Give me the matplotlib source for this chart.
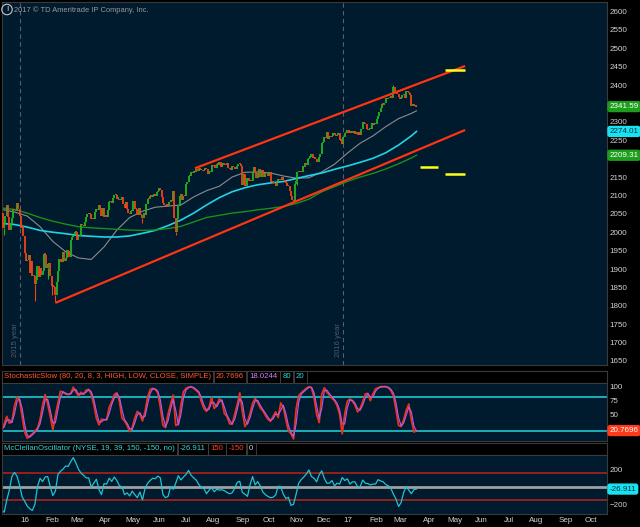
import numpy as np
import pandas as pd
import matplotlib
matplotlib.use("Agg")
import matplotlib.pyplot as plt
from matplotlib.transforms import blended_transform_factory as blend

plt.rcParams['font.family'] = ['Liberation Sans', 'DejaVu Sans']

# ---- data -------------------------------------------------------------
holidays = ["2015-12-25", "2016-01-01", "2016-01-18", "2016-02-15", "2016-03-25",
            "2016-05-30", "2016-07-04", "2016-09-05", "2016-11-24", "2016-12-26",
            "2017-01-02", "2017-01-16", "2017-02-20", "2017-04-14", "2017-05-29",
            "2017-07-04", "2017-09-04"]

# SPX daily closes 2015-12-10 .. 2017-03-27
prior_close = 2047.62
closes = [
    # Dec 2015
    2052.23, 2012.37, 2021.94, 2043.41, 2073.07, 2041.89, 2005.55, 2021.15, 2038.97, 2064.29,
    2060.99, 2056.50, 2078.36, 2063.36, 2043.94,
    # Jan 2016
    2012.66, 2016.71, 1990.26, 1943.09, 1922.03, 1923.67, 1938.68, 1890.28, 1921.84, 1880.33,
    1881.33, 1859.33, 1868.99, 1906.90, 1877.08, 1903.63, 1882.95, 1893.36, 1940.24,
    # Feb
    1939.38, 1903.03, 1912.53, 1915.45, 1880.05, 1853.44, 1852.21, 1851.86, 1829.08, 1864.78,
    1895.58, 1926.82, 1917.83, 1917.78, 1945.50, 1921.27, 1929.80, 1951.70, 1948.05, 1932.23,
    # Mar
    1978.35, 1986.45, 1993.40, 1999.99, 2001.76, 1979.26, 1989.26, 1989.57, 2022.19, 2019.64,
    2015.93, 2027.22, 2040.59, 2049.58, 2051.60, 2049.80, 2036.71, 2035.94, 2037.05, 2055.01,
    2063.95, 2059.74,
    # Apr
    2072.78, 2066.13, 2045.17, 2066.66, 2041.91, 2047.60, 2041.99, 2061.72, 2082.42, 2082.78,
    2080.73, 2094.34, 2100.80, 2102.40, 2091.48, 2091.58, 2087.79, 2091.70, 2095.15, 2075.81,
    2065.30,
    # May
    2081.43, 2063.37, 2051.12, 2050.63, 2057.14, 2058.69, 2084.39, 2064.46, 2064.11, 2046.61,
    2066.66, 2047.21, 2047.63, 2040.04, 2052.32, 2048.04, 2076.06, 2090.54, 2090.10, 2099.06,
    2096.95,
    # Jun
    2099.33, 2105.26, 2099.13, 2109.41, 2112.13, 2119.12, 2115.48, 2096.07, 2079.06, 2075.32,
    2071.50, 2077.99, 2071.22, 2083.25, 2088.90, 2085.45, 2113.32, 2037.41, 2000.54, 2036.09,
    2070.77, 2098.86,
    # Jul
    2102.95, 2088.55, 2099.73, 2097.90, 2129.90, 2137.16, 2152.14, 2152.43, 2163.75, 2161.74,
    2166.89, 2163.78, 2173.02, 2165.17, 2175.03, 2168.48, 2169.18, 2166.58, 2170.06, 2173.60,
    # Aug
    2170.84, 2157.03, 2163.79, 2164.25, 2182.87, 2180.89, 2181.74, 2175.49, 2185.79, 2184.05,
    2190.15, 2178.15, 2182.22, 2187.02, 2183.87, 2182.64, 2186.90, 2175.44, 2172.47, 2169.04,
    2180.38, 2176.12, 2170.95,
    # Sep
    2170.86, 2179.98, 2186.48, 2186.16, 2181.30, 2127.81, 2159.04, 2127.02, 2125.77, 2147.26,
    2139.16, 2139.12, 2139.76, 2163.12, 2177.18, 2164.69, 2146.10, 2159.93, 2171.37, 2151.13,
    2168.27,
    # Oct
    2161.20, 2150.49, 2159.73, 2160.77, 2153.74, 2163.66, 2136.73, 2139.18, 2132.55, 2132.98,
    2126.50, 2139.60, 2144.29, 2141.34, 2141.16, 2151.33, 2143.16, 2139.43, 2133.04, 2126.41,
    2126.15,
    # Nov
    2111.72, 2097.94, 2088.66, 2085.18, 2131.52, 2139.56, 2163.26, 2167.48, 2164.45, 2164.20,
    2180.39, 2176.94, 2187.12, 2181.90, 2198.18, 2202.94, 2204.72, 2213.35, 2201.72, 2204.66,
    2198.81,
    # Dec
    2191.08, 2191.95, 2204.71, 2212.23, 2241.35, 2246.19, 2259.53, 2256.96, 2271.72, 2253.28,
    2262.03, 2258.07, 2262.53, 2270.76, 2265.18, 2260.96, 2263.79, 2268.88, 2249.92, 2249.26,
    2238.83,
    # Jan 2017
    2257.83, 2270.75, 2269.00, 2276.98, 2268.90, 2268.90, 2275.32, 2270.44, 2274.64, 2267.89,
    2271.89, 2263.69, 2271.31, 2265.20, 2280.07, 2298.37, 2296.68, 2294.69, 2280.90, 2278.87,
    # Feb
    2279.55, 2280.85, 2297.42, 2292.56, 2293.08, 2294.67, 2307.87, 2316.10, 2328.25, 2337.58,
    2349.25, 2347.22, 2351.16, 2365.38, 2362.82, 2363.81, 2367.34, 2369.75, 2363.64,
    # Mar
    2395.96, 2381.92, 2383.12, 2375.31, 2368.39, 2362.98, 2364.87, 2372.60, 2373.47, 2365.45,
    2385.26, 2381.38, 2378.25, 2373.47, 2344.02, 2348.45, 2345.96, 2343.98, 2341.59,
]

# notable intraday extremes (wicks)
wick_lows = {"2015-12-14": 1993.3, "2016-01-20": 1812.3, "2016-02-03": 1872.7,
             "2016-02-08": 1828.5, "2016-02-11": 1810.1, "2016-05-19": 2025.9,
             "2016-06-27": 1991.7, "2016-11-04": 2083.8, "2016-11-09": 2128.0}
wick_highs = {"2017-03-01": 2401.0}

# moving averages read every 10 bars (plus last bar)
ma_bars = list(range(0, 321, 10)) + [324]
sma50 = [2062, 2055, 2044, 2015, 1975, 1947, 1930, 1926, 1960, 2006, 2040, 2057, 2068, 2071,
         2074, 2096, 2113, 2125, 2150, 2163, 2164, 2161, 2153, 2147, 2148, 2164, 2185, 2215,
         2242, 2262, 2287, 2309, 2323, 2330]
sma100 = [2024, 2021, 2014, 2005, 2000, 1996, 1991, 1989, 1987, 1987, 1990, 1997, 2005, 2018,
          2033, 2052, 2074, 2094, 2110, 2121, 2129, 2134, 2138, 2146, 2154, 2161, 2171, 2180,
          2190, 2201, 2216, 2237, 2262, 2274.01]
sma200 = [2066, 2062, 2052, 2040, 2030, 2022, 2015, 2012, 2010, 2008, 2006, 2005, 2006, 2010,
          2016, 2028, 2040, 2046, 2052, 2056, 2061, 2065, 2070, 2078, 2090, 2110, 2124, 2138,
          2150, 2160, 2172, 2186, 2202, 2209.31]

# drawn objects (date, price)
upper_channel = [("2016-07-19", 2174), ("2017-05-19", 2452)]
lower_channel = [("2016-02-11", 1808), ("2017-05-19", 2278)]
targets = [("2017-04-27", "2017-05-19", 2440), ("2017-03-30", "2017-04-20", 2178),
           ("2017-04-27", "2017-05-19", 2158)]

# indicators read every 2nd bar
stoch_k = [22, 32, 46, 34, 36, 64, 80, 75, 46, 18,
           7, 11, 15, 20, 25, 40, 66, 85, 68, 46,
           22, 47, 70, 91, 89, 86, 85, 87, 98, 90,
           82, 89, 85, 93, 94, 86, 67, 43, 31, 41,
           40, 40, 62, 72, 85, 88, 73, 43, 38, 30,
           19, 26, 43, 55, 50, 38, 54, 80, 94, 96,
           94, 88, 62, 30, 26, 50, 68, 84, 30, 32,
           66, 90, 96, 98, 99, 96, 92, 88, 72, 60,
           55, 62, 80, 60, 66, 77, 74, 51, 46, 33,
           32, 49, 67, 88, 55, 28, 36, 51, 69, 78,
           71, 61, 56, 48, 41, 37, 46, 54, 44, 70,
           62, 40, 20, 15, 6, 59, 83, 88, 92, 96,
           99, 97, 80, 50, 35, 85, 97, 89, 84, 78,
           74, 65, 50, 15, 50, 73, 77, 73, 66, 54,
           60, 72, 86, 87, 74, 86, 95, 97, 99, 99,
           99, 97, 92, 83, 58, 30, 28, 40, 57, 68,
           40, 18, 20.77]
mcclellan = [-270, -289, -154, -38, 115, 162, 120, 20, -115, -165,
             -220, -250, -270, -200, 0, 95, 58, 110, 115, 0,
             -100, -50, 140, 175, 200, 235, 230, 285, 330, 270,
             200, 154, 130, 100, 100, -5, 40, 85, -30, -90,
             35, 30, 96, 60, 110, 70, 10, 0, -90, -70,
             -105, -50, -90, -125, -60, -150, -20, 38, 70, 96,
             90, 120, 100, -90, -125, -110, 0, -30, 40, 125,
             77, 110, 140, 185, 130, 100, 75, 25, -10, -20,
             -80, -40, -10, -58, -30, -38, -35, -45, -65, -80,
             -70, -20, 50, 60, -65, -85, -110, 20, 115, 20,
             58, 10, -60, -90, -110, -125, -120, -95, 5, 0,
             -85, -135, -120, -212, -200, -85, 40, 80, 110, 145,
             190, 115, 96, 55, 135, 180, 96, 40, 40, 70,
             10, 40, 30, 105, 70, 90, 30, 55, 55, 0,
             0, 75, 40, 35, 20, 30, 30, 80, 65, 55,
             25, 10, -19, -85, -140, -225, -180, -65, 0, -40,
             -80, -33, -26.911]

# ---- calendar ------------------------------------------------------------
days = pd.date_range("2015-12-10", "2017-10-31",
                     freq=pd.offsets.CustomBusinessDay(holidays=holidays))


def bar_of(s):
    return days.get_loc(pd.Timestamp(s))


closes = np.array(closes)
bars = np.arange(len(closes))
opens = np.r_[prior_close, closes[:-1]]

# ---- figure ------------------------------------------------------------
BG = '#001a2e'
EDGE = '#3a3a3a'
UP, DOWN = '#22b422', '#f2421a'
W, H = 640, 527

fig = plt.figure(figsize=(6.4, 5.27), dpi=100, facecolor='black')


def rect(x0, y0, x1, y1):
    return [x0 / W, 1 - y1 / H, (x1 - x0) / W, (y1 - y0) / H]


ax = fig.add_axes(rect(2, 2, 607, 365), facecolor=BG)
hs = fig.add_axes(rect(2, 371, 607, 383), facecolor='black')
ax_st = fig.add_axes(rect(2, 383, 607, 441), facecolor=BG)
hm = fig.add_axes(rect(2, 443, 607, 455), facecolor='black')
ax_mc = fig.add_axes(rect(2, 455, 607, 514), facecolor=BG)

for a in (ax, hs, ax_st, hm, ax_mc):
    for sp in a.spines.values():
        sp.set_color(EDGE)
        sp.set_linewidth(0.8)
    a.set_xticks([])
for a in (hs, hm):
    a.set_yticks([])
for a in (ax, ax_st, ax_mc):
    a.set_xlim(0.3, 472.8)
    a.yaxis.tick_right()
    a.tick_params(axis='y', length=0, pad=2, labelsize=5.8, labelcolor='#d2d2d2')

# ---- price panel -------------------------------------------------------
ax.set_ylim(1639, 2626)
# levels hidden behind the value tags are left out, as on the platform
price_ticks = [t for t in range(1650, 2601, 50) if t not in (2350, 2200)]
ax.set_yticks(price_ticks)

lo = np.minimum(opens, closes)
hi = np.maximum(opens, closes)
hi_draw = np.maximum(hi, lo + 3)
up = closes >= opens
ax.vlines(bars[up], lo[up], hi_draw[up], color=UP, lw=1.3, zorder=3)
ax.vlines(bars[~up], lo[~up], hi_draw[~up], color=DOWN, lw=1.3, zorder=3)
for d, v in wick_lows.items():
    i = bar_of(d)
    ax.vlines(i, v, lo[i], color=UP if up[i] else DOWN, lw=0.8, zorder=3)
for d, v in wick_highs.items():
    i = bar_of(d)
    ax.vlines(i, hi[i], v, color=UP if up[i] else DOWN, lw=0.8, zorder=3)

ax.plot(ma_bars, sma50, color='#8c8c8c', lw=0.8, zorder=2)
ax.plot(ma_bars, sma100, color='#22d3e6', lw=1.2, zorder=2)
ax.plot(ma_bars, sma200, color='#1b8f1b', lw=1.0, zorder=2)

for line in (upper_channel, lower_channel):
    ax.plot([bar_of(d) for d, _ in line], [p for _, p in line],
            color='#ff3414', lw=1.6, zorder=4, solid_capstyle='butt')
for d0, d1, p in targets:
    ax.plot([bar_of(d0), bar_of(d1)], [p, p], color='#ffff1a', lw=1.8, zorder=4,
            solid_capstyle='butt')

# year separators
year_change = np.where(days.year[1:] != days.year[:-1])[0] + 0.5
tr = blend(ax.transData, ax.transAxes)
for xb in year_change[:2]:
    ax.axvline(xb, color='#56616c', lw=0.8, ls=(0, (4, 3)), zorder=1)
    ax.text(xb - 0.8, 0.022, f"{days[int(xb)].year} year", rotation=90, transform=tr,
            ha='right', va='bottom', fontsize=5.5, color='#4f5d6b')

fig.text(7 / W, 1 - 9.5 / H, "!", fontsize=5, color='#c8c8c8', ha='center', va='center',
         fontweight='bold',
         bbox=dict(boxstyle='circle,pad=0.25', fc='none', ec='#c8c8c8', lw=0.8))
fig.text(14 / W, 1 - 10 / H, "2017 © TD Ameritrade IP Company, Inc.", fontsize=5.4,
         color='#9a9a9a', ha='left', va='center')


def value_tag(axis, y, text, fc, tc):
    axis.text(1.004, y, text, transform=blend(axis.transAxes, axis.transData),
              fontsize=5.8, color=tc, va='center', ha='left', clip_on=False, zorder=10,
              bbox=dict(boxstyle='round,pad=0.18,rounding_size=0.25', fc=fc, ec=fc))


value_tag(ax, closes[-1], f"{closes[-1]:.2f}", '#1c9e1c', '#ffffff')
value_tag(ax, sma100[-1], f"{sma100[-1]:.2f}", '#17e3f2', '#003040')
value_tag(ax, sma200[-1], f"{sma200[-1]:.2f}", '#1c9e1c', '#ffffff')

# ---- stochastic --------------------------------------------------------
ind_bars = bars[::2]
stoch_d = pd.Series(stoch_k).rolling(2, min_periods=1).mean()
ax_st.set_ylim(2.2, 105.5)
ax_st.set_yticks([50, 75, 100])
ax_st.axhline(80, color='#1fc8d2', lw=1.2)
ax_st.axhline(20, color='#1fc8d2', lw=1.2)
ax_st.plot(ind_bars, stoch_k, color='#e8321a', lw=1.3)
ax_st.plot(ind_bars, stoch_d, color='#b45cf0', lw=0.8)
value_tag(ax_st, stoch_k[-1], "20.7696", '#ff3a1a', '#ffffff')

# ---- McClellan ---------------------------------------------------------
ax_mc.set_ylim(-310, 360)
ax_mc.set_yticks([-200, 200])
ax_mc.axhline(0, color='#a0a0a0', lw=2.0)
ax_mc.axhline(150, color='#c0201a', lw=1.1)
ax_mc.axhline(-150, color='#c0201a', lw=1.1)
ax_mc.plot(ind_bars, mcclellan, color='#20c4d4', lw=0.9)
value_tag(ax_mc, mcclellan[-1], "-26.911", '#17e3f2', '#003040')

# ---- headers -----------------------------------------------------------
renderer = fig.canvas.get_renderer()


def header(y_px, items):
    x = 4
    for s, c in items:
        t = fig.text(x / W, 1 - y_px / H, s, color=c, fontsize=5.6, ha='left',
                     va='center',
                     bbox=dict(boxstyle='square,pad=0.3', fc='black', ec='#444444', lw=0.6))
        bb = t.get_window_extent(renderer)
        x = bb.x1 + 5


header(377, [("StochasticSlow (80, 20, 8, 3, HIGH, LOW, CLOSE, SIMPLE)", '#ff5a30'),
             ("20.7696", '#ff5a30'), ("18.0244", '#d27cff'),
             ("80", '#2fd6d6'), ("20", '#2fd6d6')])
header(449, [("McClellanOscillator (NYSE, 19, 39, 150, -150, no)", '#33d6e0'),
             ("-26.911", '#33d6e0'), ("150", '#ff4020'), ("-150", '#ff4020'),
             ("0", '#d0d0d0')])

# ---- month labels ------------------------------------------------------
new_month = np.where(days.month[1:] != days.month[:-1])[0] + 1
trm = blend(ax_mc.transData, ax_mc.transAxes)
for i in new_month:
    d = days[i]
    lab = f"{d.year % 100}" if d.month == 1 else d.strftime("%b")
    ax_mc.text(i, -0.11, lab, transform=trm, ha='left', va='center', fontsize=5.8,
               color='#d2d2d2', clip_on=False)

fig.savefig("out.png", dpi=100, facecolor='black')
